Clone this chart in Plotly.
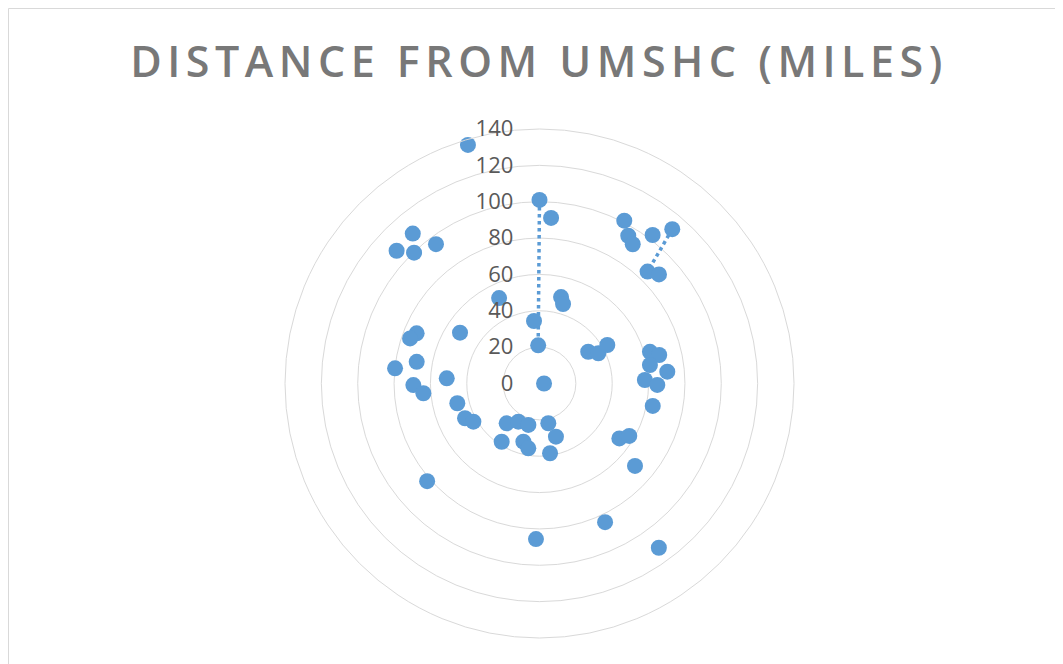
import plotly.graph_objects as go

# Bearing (degrees clockwise from north) and distance (miles) of each location
bearing_deg = [0, 4, 343.3, 14, 16.5, 355, 358, 334.7,
               27.5, 31, 33.8, 37.3, 40.7, 44, 47.6,
               56.9, 62.8, 60.4, 74, 76.6, 80.5, 84.7, 88.1, 90.7, 101.2,
               124.5, 120.3, 130.8, 154.7, 144,
               181.3, 213, 219.5, 209, 195, 195.5, 189.8, 167.5, 162.8, 171.4,
               292.2, 289.2, 302.6, 276, 280, 269.3, 265.2, 273.2, 256.5, 245, 240,
               319.8, 312.9, 316.2, 323.4,
               229, 90]
distance_miles = [101, 91.3, 137, 49, 45.6, 34.5, 21, 52,
                  101, 94.8, 92.2, 102.7, 112, 85.6, 89,
                  32, 36.4, 42.9, 63.2, 67.7, 61.6, 70.6, 58, 64.8, 63.5,
                  53.3, 57.2, 69.4, 84.4, 111.7,
                  85.6, 38.2, 28.4, 24, 23.6, 33.2, 36.2, 22.4, 30.6, 38.8,
                  73, 75.4, 51.9, 79.9, 68.6, 69.4, 64.1, 51.1, 46.5, 45.2, 42,
                  108, 107.3, 99.7, 95.5,
                  81.9, 2.5]

# Connecting line segments (adjacent bearings) that are visible in the chart
segment_bearing = [0, 358, None, 40.7, 44]
segment_distance = [101, 21, None, 112, 85.6]

radial_ticks = [0, 20, 40, 60, 80, 100, 120, 140]

BLUE = "#5B9BD5"
GRID = "#D9D9D9"

fig = go.Figure()
fig.add_trace(go.Scatterpolar(
    r=segment_distance, theta=segment_bearing, mode="lines",
    line=dict(color=BLUE, width=3.5, dash="dot"),
    connectgaps=False, hoverinfo="skip", showlegend=False,
))
fig.add_trace(go.Scatterpolar(
    r=distance_miles, theta=bearing_deg, mode="markers",
    marker=dict(color=BLUE, size=16, line=dict(width=0)),
    showlegend=False,
))

W, H = 1063, 664
cx, cy, rad = 531.5, 375.5, 254.5
fig.update_layout(
    width=W, height=H,
    margin=dict(l=0, r=0, t=0, b=0),
    paper_bgcolor="white", plot_bgcolor="white",
    title=dict(
        text="DISTANCE FROM UMSHC (MILES)",
        x=531 / W, xanchor="center", y=1 - 54 / H, yanchor="middle",
        font=dict(family="Open Sans", size=43, color="#787878", weight=600),
    ),
    polar=dict(
        domain=dict(x=[(cx - rad) / W, (cx + rad) / W],
                    y=[(H - cy - rad) / H, (H - cy + rad) / H]),
        bgcolor="white",
        radialaxis=dict(
            range=[0, 140], tickvals=radial_ticks,
            ticktext=[str(t) for t in radial_ticks],
            angle=90, tickangle=90, side="counterclockwise",
            showline=False, ticks="outside", ticklen=18,
            tickcolor="rgba(0,0,0,0)",
            gridcolor=GRID, gridwidth=1,
            tickfont=dict(family="Open Sans", size=22, color="#595959"),
        ),
        angularaxis=dict(
            rotation=90, direction="clockwise", thetaunit="degrees",
            showgrid=False, showticklabels=False, ticks="",
            showline=True, linecolor=GRID, linewidth=1,
        ),
    ),
    shapes=[dict(type="rect", xref="paper", yref="paper",
                 x0=0.5 / W, x1=1.02, y0=-0.02, y1=1 - 0.5 / H,
                 line=dict(color="#D9D9D9", width=1), layer="below")],
)

# Excel-style widened letter spacing for the title
post = """
var t = document.querySelector('.gtitle');
if (t) { t.style.letterSpacing = '5.5px'; }
"""
fig.write_html("out.html", post_script=post)
